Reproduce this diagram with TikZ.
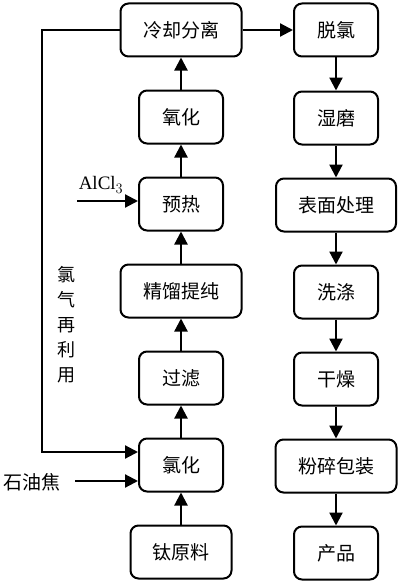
\documentclass[tikz,border=0pt]{standalone}
\usepackage{fontspec}
\setmainfont{Liberation Serif}
\newfontfamily\cjk{Noto Sans CJK SC}
\usetikzlibrary{arrows.meta}
\begin{document}
\begin{tikzpicture}[x=1pt,y=-1pt,
  box/.style={draw,line width=2pt,rounded corners=8pt,minimum height=53pt,inner sep=0pt,font=\cjk\fontsize{19}{22}\selectfont},
  sbox/.style={box,minimum width=84pt},
  wbox/.style={box,minimum width=121pt},
  arr/.style={line width=2.2pt,-{Triangle[length=13pt,width=13pt]}},
  lbl/.style={inner sep=0pt,font=\cjk\fontsize{19}{22}\selectfont}]
\useasboundingbox (0,0) rectangle (413,586);
% left column
\node[wbox] (L1) at (181,30) {冷却分离};
\node[sbox] (L2) at (181,117) {氧化};
\node[sbox] (L3) at (181,204) {预热};
\node[wbox] (L4) at (181,291) {精馏提纯};
\node[sbox] (L5) at (181,378) {过滤};
\node[sbox] (L6) at (181,465) {氯化};
\node[box,minimum width=101pt] (L7) at (181,552) {钛原料};
% right column
\node[sbox] (R1) at (336,30) {脱氯};
\node[sbox] (R2) at (336,118) {湿磨};
\node[box,minimum width=120pt] (R3) at (336,205) {表面处理};
\node[sbox] (R4) at (336,292) {洗涤};
\node[sbox] (R5) at (336,379) {干燥};
\node[wbox] (R6) at (336,466) {粉碎包装};
\node[sbox] (R7) at (336,553) {产品};
% arrows left column (upwards)
\draw[arr] (L7) -- (L6);
\draw[arr] (L6) -- (L5);
\draw[arr] (L5) -- (L4);
\draw[arr] (L4) -- (L3);
\draw[arr] (L3) -- (L2);
\draw[arr] (L2) -- (L1);
% cross arrow
\draw[arr] (L1) -- (R1);
% right column (downwards)
\draw[arr] (R1) -- (R2);
\draw[arr] (R2) -- (R3);
\draw[arr] (R3) -- (R4);
\draw[arr] (R4) -- (R5);
\draw[arr] (R5) -- (R6);
\draw[arr] (R6) -- (R7);
% feedback loop
\coordinate (fbTop) at (42,30);
\coordinate (fbBot) at (42,452);
\draw[arr] (L1.west) -- (fbTop) -- (fbBot) -- ([yshift=13pt]L6.west);
\node[lbl,align=center,font=\cjk\fontsize{18}{25}\selectfont] (cl) at (66,325) {氯\\气\\再\\利\\用};
% inputs
\node[lbl] (coke) at (32,482) {石油焦};
\coordinate (cokeS) at (75,481);
\draw[arr] (cokeS) -- ([yshift=-16pt]L6.west);
\node[inner sep=0pt,font=\fontsize{19}{22}\selectfont] (al) at (101,185) {AlCl$_3$};
\coordinate (alS) at (77,201);
\draw[arr] (alS) -- ([yshift=3pt]L3.west);
\end{tikzpicture}
\end{document}
